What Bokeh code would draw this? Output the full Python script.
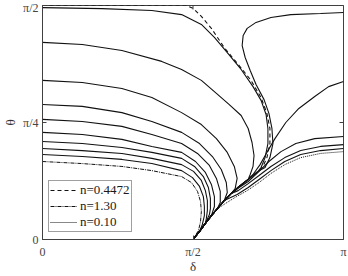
import math
from bokeh.plotting import figure
from bokeh.models import Range1d, FixedTicker, Legend, LegendItem
from bokeh.embed import file_html
from bokeh.resources import INLINE

# delta and theta in degrees (axis labelled in multiples of pi)
X_TICKS = [0, 90, 180]
X_LABELS = ["0", "π/2", "π"]
Y_TICKS = [0, 45, 90]
Y_LABELS = ["0", "π/4", "π/2"]

# common asymptotic direction into the node (pi/2, 0)
D_X = [128.9, 123.0, 117.6, 112.9, 108.7, 104.6, 101.0, 97.4, 93.9, 90.0]
D_Y = [26.2, 23.1, 20.4, 17.7, 15.0, 11.9, 9.2, 6.2, 3.1, 0.0]

# separatrix n = 0.4472
SEP_X = [0, 35.6, 65.4, 86.1, 90.3, 95.0, 101.0, 108.7, 117.6, 124.7, 130.7, 134.2, 136.0, 136.0, 134.2, 131.9]
SEP_Y = [90, 90, 90, 90, 88.8, 85.8, 81.2, 73.8, 66.9, 61.2, 54.6, 48.5, 42.7, 36.9, 31.5, 28.1]

# left family (solid)
L0_X = [0, 35.6, 65.4, 83.2, 95.0, 102.8, 110.5, 118.8, 125.9, 130.7, 133.7, 134.8, 134.8, 133.1, 130.7]
L0_Y = [89.2, 88.8, 88.1, 86.5, 82.7, 77.7, 71.9, 65.4, 58.8, 53.5, 48.1, 42.7, 36.9, 31.5, 27.7]
L1_X = [0, 23.8, 47.5, 71.3, 83.2, 95.0, 104.0, 111.7, 118.8, 123.0, 125.3, 126.5, 125.9, 124.2]
L1_Y = [75.8, 75.0, 72.7, 68.5, 65.4, 61.2, 56.2, 51.9, 47.7, 42.7, 37.3, 32.3, 28.1, 25.0]
L2_X = [0, 23.8, 47.5, 65.4, 83.2, 95.0, 104.0, 110.5, 114.7, 116.4, 115.2]
L2_Y = [61.2, 60.4, 58.1, 54.6, 48.8, 44.2, 38.8, 33.5, 28.1, 23.5, 19.6]
L3_X = [0, 23.8, 47.5, 65.4, 83.2, 93.9, 101.6, 106.9, 109.9, 110.5]
L3_Y = [51.9, 51.2, 48.8, 45.4, 41.2, 36.9, 31.9, 26.9, 21.9, 18.1]
L4_X = [0, 23.8, 47.5, 65.4, 83.2, 92.7, 99.8, 104.0, 106.3, 106.3]
L4_Y = [46.2, 45.4, 43.5, 40.4, 36.9, 33.1, 28.5, 23.5, 18.5, 14.2]
L5_X = [0, 23.8, 47.5, 65.4, 83.2, 91.5, 97.4, 101.0, 102.8, 102.8]
L5_Y = [41.2, 40.4, 38.5, 35.8, 33.5, 30.0, 25.8, 21.2, 16.5, 12.7]
L6_X = [0, 23.8, 47.5, 65.4, 83.2, 90.9, 96.2, 99.2, 100.4, 100.4, 99.8]
L6_Y = [37.7, 36.9, 35.4, 33.5, 31.2, 28.1, 24.2, 20.0, 15.8, 11.9, 9.6]
L7_X = [0, 23.8, 47.5, 65.4, 83.2, 90.3, 95.0, 97.4, 98.6, 98.6, 98.0]
L7_Y = [35.0, 34.2, 33.1, 31.2, 28.8, 26.2, 22.7, 18.8, 15.0, 11.2, 8.1]
L8_X = [0, 23.8, 47.5, 65.4, 83.2, 89.7, 93.9, 96.2, 96.8, 96.8, 95.6]
L8_Y = [32.7, 31.9, 30.8, 29.2, 26.5, 23.8, 20.4, 16.5, 12.7, 9.2, 5.8]
# n = 1.30 (dash-dot)
N130_X = [0, 23.8, 47.5, 65.4, 83.2, 89.1, 92.7, 94.5, 95.0, 94.5, 93.3]
N130_Y = [30.0, 29.2, 28.1, 26.5, 24.2, 21.9, 18.5, 14.6, 10.8, 6.9, 3.5]

# right family (solid)
R0_X = [180, 166.3, 148.5, 136.6, 127.7, 122.4, 120.0, 119.4, 121.2, 124.2, 127.7, 132.5, 135.4, 137.2, 137.8, 136.0, 133.1]
R0_Y = [87.3, 86.9, 86.5, 85.4, 83.5, 81.2, 78.5, 74.6, 70.0, 65.0, 59.6, 53.8, 48.5, 42.7, 36.9, 31.5, 27.7]
R1_X = [180, 171.1, 162.8, 153.3, 145.5, 139.0, 134.2, 130.1, 125.9]
R1_Y = [60.8, 58.8, 55.0, 50.4, 45.0, 38.8, 33.5, 28.8, 25.0]
R2_X = [180, 162.8, 151.5, 142.6, 135.4, 128.9, 123.0, 117.6]
R2_Y = [39.6, 38.8, 36.9, 33.8, 30.0, 25.8, 22.3, 20.0]
R3_X = [180, 166.3, 154.4, 144.9, 136.6, 129.5, 123.0, 117.0]
R3_Y = [36.5, 35.8, 34.2, 31.5, 28.1, 24.6, 21.5, 18.8]
R4_X = [180, 166.3, 154.4, 144.9, 136.6, 129.5, 123.0, 116.4]
R4_Y = [35.0, 34.2, 32.7, 30.0, 26.5, 23.1, 20.0, 17.3]
# n = 0.10 (dotted)
N010_X = [180, 166.3, 154.4, 144.9, 136.6, 129.5, 122.4, 115.2, 109.3]
N010_Y = [33.8, 33.1, 31.5, 28.8, 25.4, 21.9, 18.8, 16.2, 13.8]

LINE = "#111111"
AXC = "#404040"
FONT = "Liberation Serif"

p = figure(width=348, height=276, output_backend="svg", toolbar_location=None,
           x_range=Range1d(0, 180), y_range=Range1d(0, 90),
           min_border_left=40, min_border_right=5, min_border_top=5, min_border_bottom=37)
p.xgrid.visible = False
p.ygrid.visible = False
p.outline_line_color = AXC
p.outline_line_width = 1


def full(xs, ys, k):
    return xs + D_X[k:], ys + D_Y[k:]


solid = [(L0_X, L0_Y, 0), (L1_X, L1_Y, 1), (L2_X, L2_Y, 3), (L3_X, L3_Y, 4),
         (L4_X, L4_Y, 5), (L5_X, L5_Y, 6), (L6_X, L6_Y, 7), (L7_X, L7_Y, 7),
         (L8_X, L8_Y, 8), (R0_X, R0_Y, 0), (R1_X, R1_Y, 1), (R2_X, R2_Y, 3),
         (R3_X, R3_Y, 3), (R4_X, R4_Y, 4)]
for xs, ys, k in solid:
    fx, fy = full(xs, ys, k)
    p.line(fx, fy, line_color=LINE, line_width=1.1)

fx, fy = full(SEP_X, SEP_Y, 0)
r_sep = p.line(fx, fy, line_color=LINE, line_width=1.1, line_dash="4 3")
fx, fy = full(N130_X, N130_Y, 9)
r_130 = p.line(fx, fy, line_color=LINE, line_width=1.0, line_dash="4 1 1 1")
fx, fy = full(N010_X, N010_Y, 5)
r_010 = p.line(fx, fy, line_color=LINE, line_width=1.0, line_dash="1 1")

# mirrored tick marks on the top and right edges of the box
p.scatter(X_TICKS, [90] * len(X_TICKS), marker="dash", angle=math.pi / 2, size=8,
          line_color=AXC, line_width=1)
p.scatter([180] * len(Y_TICKS), Y_TICKS, marker="dash", size=8,
          line_color=AXC, line_width=1)

for ax, ticks, labels, name in [(p.xaxis[0], X_TICKS, X_LABELS, "δ"),
                                (p.yaxis[0], Y_TICKS, Y_LABELS, "θ")]:
    ax.ticker = FixedTicker(ticks=ticks)
    ax.major_label_overrides = {t: l for t, l in zip(ticks, labels)}
    ax.axis_label = name
    ax.axis_label_text_font = FONT
    ax.axis_label_text_font_style = "normal"
    ax.axis_label_text_font_size = "13px"
    ax.axis_label_text_color = "#333333"
    ax.major_label_text_font = FONT
    ax.major_label_text_font_size = "12px"
    ax.major_label_text_color = "#444444"
    ax.major_tick_in = 4
    ax.major_tick_out = 0
    ax.minor_tick_line_color = None
    ax.axis_line_color = AXC
    ax.major_tick_line_color = AXC

p.xaxis[0].major_label_standoff = 5
p.xaxis[0].axis_label_standoff = -3
p.yaxis[0].major_label_standoff = 4
p.yaxis[0].axis_label_standoff = 2

legend = Legend(items=[LegendItem(label="n=0.4472", renderers=[r_sep]),
                       LegendItem(label="n=1.30", renderers=[r_130]),
                       LegendItem(label="n=0.10", renderers=[r_010])],
                location=(6, 7), orientation="vertical",
                label_text_font=FONT, label_text_font_size="13px", label_text_color="#1a1a1a",
                glyph_width=27, glyph_height=16, label_height=16, label_standoff=3,
                spacing=0, padding=1, margin=0,
                border_line_color=AXC, border_line_width=1,
                background_fill_color="white", background_fill_alpha=1)
p.add_layout(legend, "center")

open("out.html", "w").write(file_html(p, INLINE))
